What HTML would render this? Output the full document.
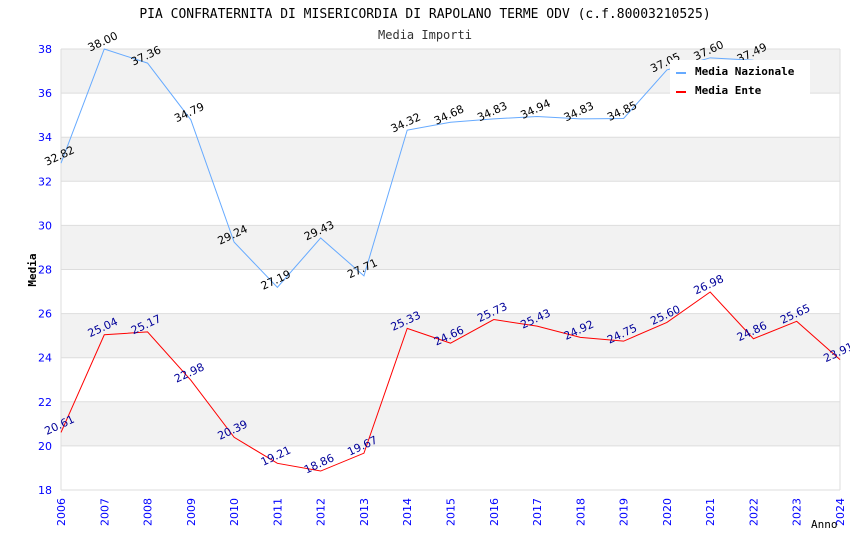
<!DOCTYPE html>
<html><head><meta charset="utf-8"><style>
body{margin:0;background:#fff}
svg text{font-family:"DejaVu Sans","Liberation Sans",sans-serif}
svg text.mono{font-family:"DejaVu Sans Mono","Liberation Mono",monospace}
</style></head><body>
<svg id="c" width="850" height="550" xmlns="http://www.w3.org/2000/svg">
<text class="mono" x="425" y="18" text-anchor="middle" font-size="13" fill="#000">PIA CONFRATERNITA DI MISERICORDIA DI RAPOLANO TERME ODV (c.f.80003210525)</text>
<text class="mono" x="425" y="39" text-anchor="middle" font-size="12" fill="#333">Media Importi</text>
<g id="grid"></g><g id="axes"></g><g id="series"></g>
<g>
<rect x="670" y="60" width="140" height="35" fill="#fff"/>
<line x1="676" y1="73" x2="686" y2="73" stroke="#66aaff" stroke-width="2"/>
<text class="mono" x="695" y="75" font-size="11" font-weight="bold">Media Nazionale</text>
<line x1="676" y1="92" x2="686" y2="92" stroke="#ff0000" stroke-width="2"/>
<text class="mono" x="695" y="94" font-size="11" font-weight="bold">Media Ente</text>
</g>
<text class="mono" x="36" y="270" font-size="11" font-weight="bold" transform="rotate(-90 36 270)" text-anchor="middle">Media</text>
<text class="mono" x="811" y="528" font-size="11">Anno</text>
</svg>
<script>
const years=[2006,2007,2008,2009,2010,2011,2012,2013,2014,2015,2016,2017,2018,2019,2020,2021,2022,2023,2024];
const nazionale=[32.82,38.00,37.36,34.79,29.24,27.19,29.43,27.71,34.32,34.68,34.83,34.94,34.83,34.85,37.05,37.6,37.49];
const ente=[20.61,25.04,25.17,22.98,20.39,19.21,18.86,19.67,25.33,24.66,25.73,25.43,24.92,24.75,25.60,26.98,24.86,25.65,23.91];
const yTicks=[18,20,22,24,26,28,30,32,34,36,38];
const NS="http://www.w3.org/2000/svg";
const x0=61,x1=840,yTop=49,yBot=490,ymin=18,ymax=38;
const X=i=>x0+i*(x1-x0)/(years.length-1);
const Y=v=>yBot-(v-ymin)*(yBot-yTop)/(ymax-ymin);
function mk(t,a,p){const e=document.createElementNS(NS,t);for(const k in a)e.setAttribute(k,a[k]);p.appendChild(e);return e;}
const grid=document.getElementById('grid'),axes=document.getElementById('axes'),ser=document.getElementById('series');
for(let i=0;i<yTicks.length-1;i++){
 const lo=yTicks[i],hi=yTicks[i+1];
 if(i%2===1){const r=mk('rect',{x:x0,y:Y(hi),width:x1-x0,height:Y(lo)-Y(hi),fill:'#f2f2f2'},grid);
 
 }
}
yTicks.forEach(v=>{
 const l=mk('line',{x1:x0,x2:x1,y1:Y(v),y2:Y(v),stroke:'#dddddd'},grid);
 
 
 const t=mk('text',{x:x0-9,y:Y(v)+4,'text-anchor':'end','font-size':11,fill:'#0000ff'},axes);
 t.textContent=v;
 
 
});
mk('line',{x1:x0,x2:x0,y1:yTop,y2:yBot,stroke:'#dddddd'},grid);
mk('line',{x1:x1,x2:x1,y1:yTop,y2:yBot,stroke:'#dddddd'},grid);
years.forEach((yr,i)=>{
 const t=mk('text',{x:0,y:0,'font-size':11,fill:'#0000ff','text-anchor':'end',transform:`translate(${X(i)+4},${yBot+8}) rotate(-90)`},axes);
 t.textContent=yr;
 
 
});
function series(vals,color,lblColor,name){
 const pts=vals.map((v,i)=>X(i)+','+Y(v)).join(' ');
 const pl=mk('polyline',{points:pts,fill:'none',stroke:color,'stroke-width':1},ser);
 
 
 vals.forEach((v,i)=>{
  const t=mk('text',{x:0,y:0,'font-size':11,fill:lblColor,'text-anchor':'middle',transform:`translate(${X(i)},${Y(v)-4}) rotate(-25)`},ser);
  t.textContent=v.toFixed(2);
  
  
 });
}
series(nazionale,'#66aaff','#000','nazionale');
series(ente,'#ff0000','#000099','ente');
</script>
</body></html>
